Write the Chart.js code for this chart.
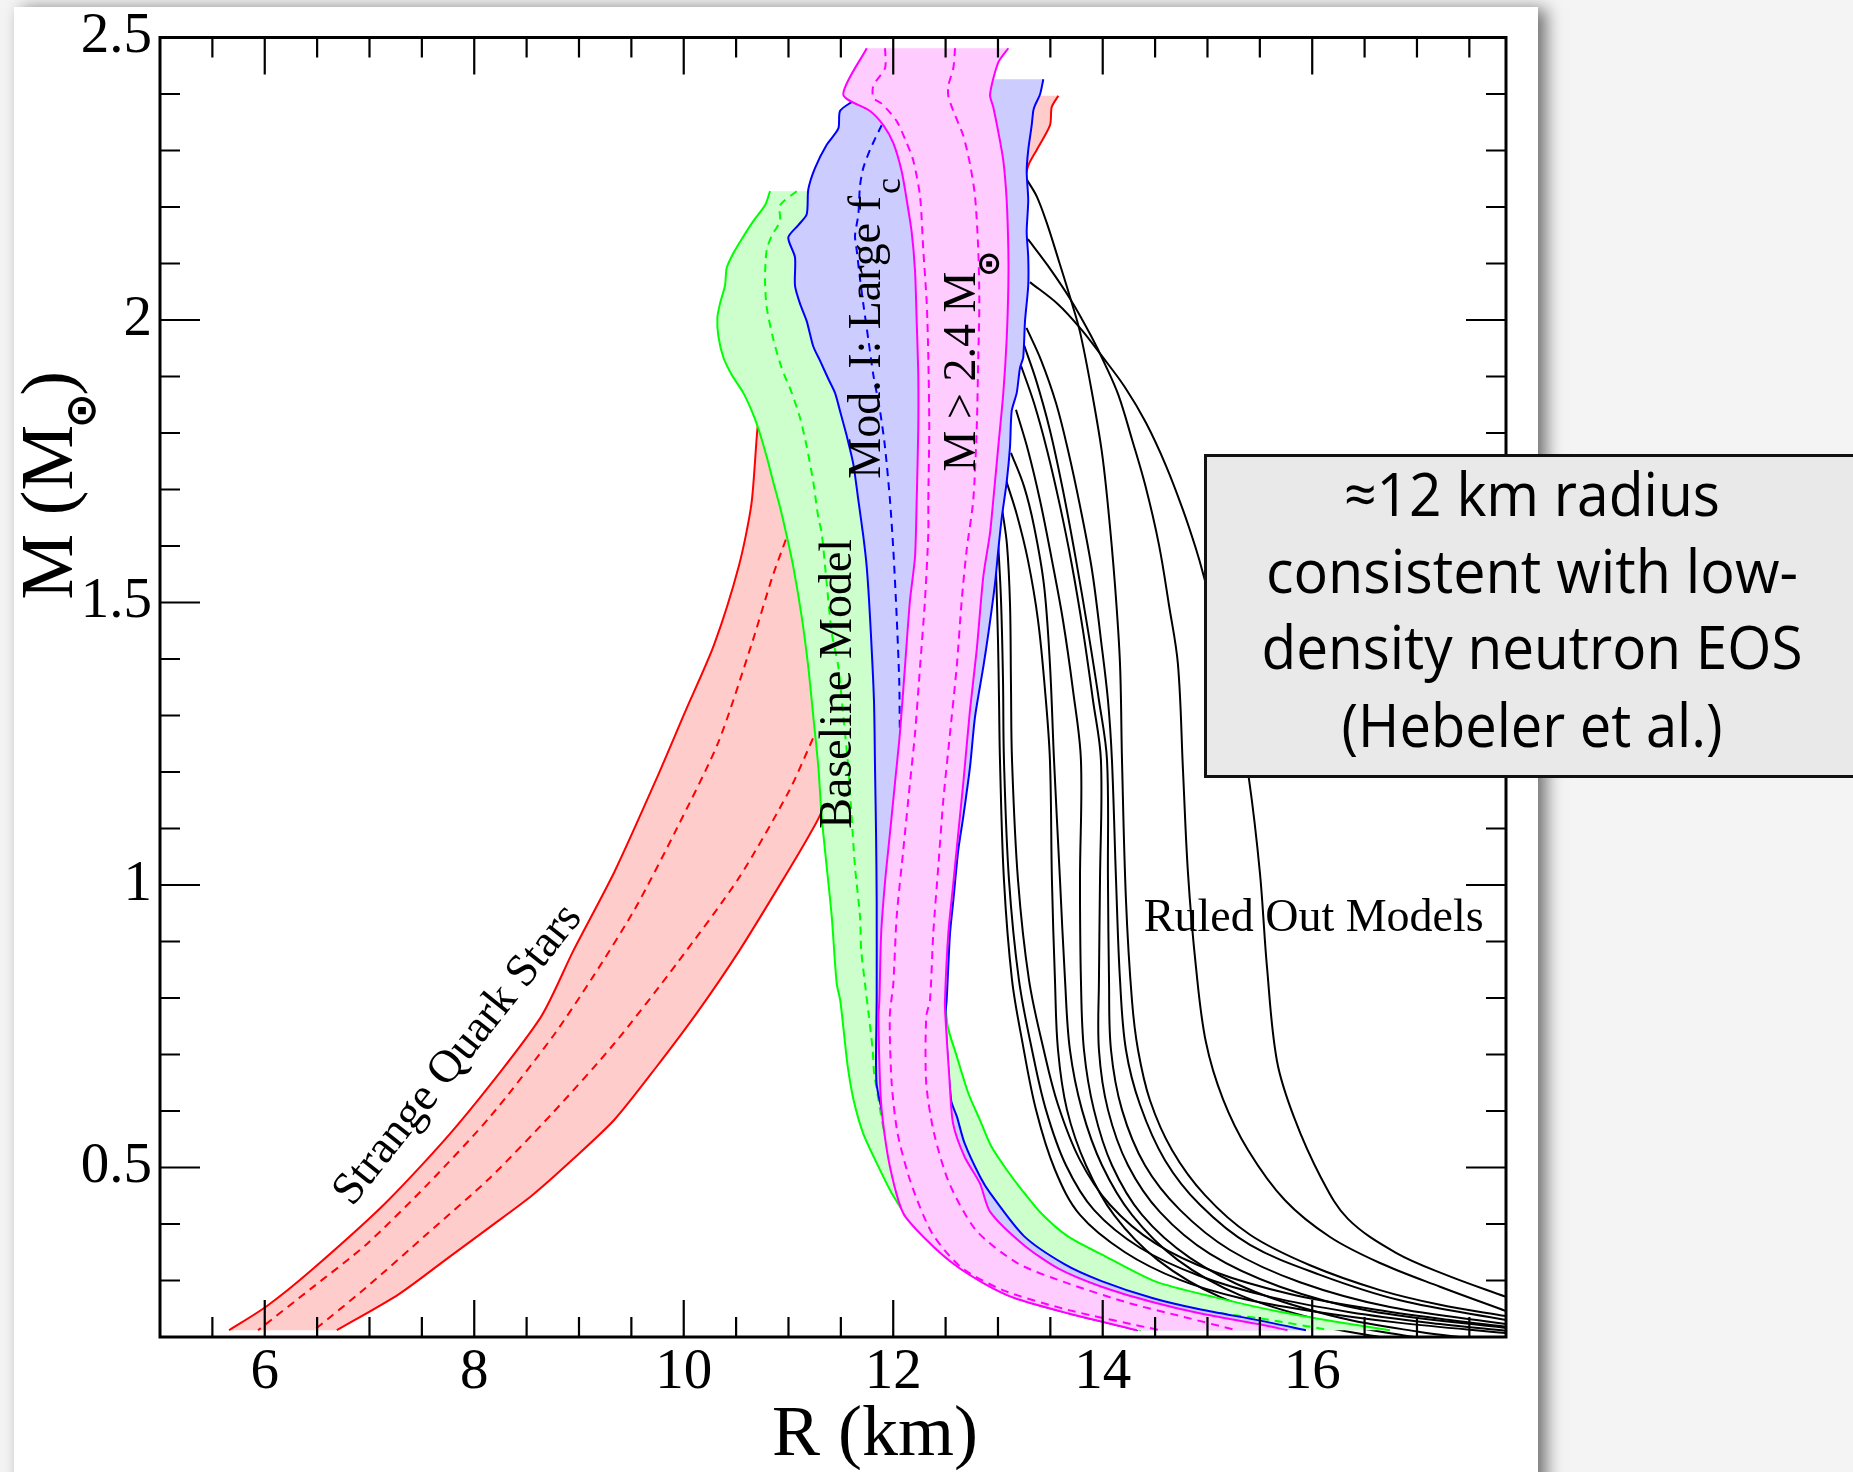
<!DOCTYPE html>
<html lang="en">
<head>
<meta charset="UTF-8">
<title>Neutron star mass-radius constraints</title>
<script src="https://cdn.jsdelivr.net/npm/chart.js@4.4.1/dist/chart.umd.min.js"></script>
<style>
  html, body { margin: 0; padding: 0; background: #f4f4f4; overflow: hidden; }
  .sheet {
    position: absolute; left: 14px; top: 7px; width: 1524px; height: 1560px;
    background: #fff; box-shadow: 8px 2px 16px rgba(0, 0, 0, 0.55);
  }
  #mr { position: absolute; left: 0; top: 0; }
</style>
</head>
<body>
<div class="sheet"></div>
<canvas id="mr" width="1853" height="1472"></canvas>
<script>
// axis limits and labelled ticks
const rLimits = [5, 17.85];
const mLimits = [0.2, 2.5];
const xTickLabels = [6, 8, 10, 12, 14, 16];
const yTickLabels = [0.5, 1, 1.5, 2, 2.5];

// strange quark stars band, [R km, M Msun], edges listed top to bottom
const quarkLeft = [[12.637,2.397],[12.064,2.389],[11.683,2.336],[11.320,2.239],[11.015,2.124],[10.805,1.965],[10.705,1.810],[10.646,1.674],[10.528,1.566],[10.289,1.425],[10.012,1.306],[9.735,1.186],[9.340,1.024],[8.944,0.883],[8.628,0.764],[7.835,0.574],[7.163,0.439],[6.450,0.319],[6.015,0.254],[5.659,0.212]];
const quarkRight = [[13.576,2.397],[13.513,2.377],[13.497,2.345],[13.370,2.301],[13.289,2.273],[13.163,2.177],[12.924,2.036],[12.637,1.858],[12.256,1.681],[11.874,1.504],[11.587,1.327],[11.319,1.132],[11.201,1.089],[10.923,1.002],[10.528,0.883],[10.131,0.775],[9.735,0.677],[9.340,0.585],[8.944,0.515],[8.548,0.450],[8.152,0.395],[7.757,0.341],[7.282,0.276],[6.688,0.212]];
const quarkDashA = [[11.110,1.681],[10.982,1.615],[10.844,1.544],[10.646,1.425],[10.329,1.252],[9.934,1.100],[9.538,0.959],[9.142,0.840],[8.746,0.731],[8.152,0.590],[7.559,0.471],[6.965,0.363],[6.451,0.287],[5.936,0.212]];
const quarkDashB = [[11.398,1.327],[11.240,1.262],[11.002,1.165],[10.528,1.013],[9.934,0.861],[9.340,0.720],[8.746,0.596],[8.152,0.482],[7.559,0.384],[6.965,0.287],[6.470,0.212]];

// baseline model band
const baseLeft = [[10.824,2.228],[10.776,2.203],[10.664,2.175],[10.553,2.143],[10.473,2.118],[10.410,2.092],[10.394,2.061],[10.346,2.029],[10.321,2.004],[10.330,1.972],[10.378,1.934],[10.458,1.903],[10.569,1.871],[10.649,1.839],[10.712,1.808],[10.792,1.758],[10.855,1.713],[10.919,1.669],[10.983,1.618],[11.046,1.563],[11.126,1.475],[11.189,1.386],[11.237,1.298],[11.285,1.209],[11.317,1.121],[11.365,1.032],[11.413,0.944],[11.460,0.826],[11.494,0.796],[11.530,0.737],[11.566,0.678],[11.622,0.619],[11.712,0.561],[11.860,0.501],[11.987,0.454],[12.133,0.413],[12.280,0.384],[12.351,0.372],[12.609,0.330],[12.905,0.295],[13.191,0.269],[13.706,0.242],[14.365,0.212]];
const baseRight = [[11.253,2.228],[11.444,2.036],[11.778,1.770],[12.112,1.416],[12.351,1.062],[12.466,0.885],[12.516,0.754],[12.608,0.696],[12.718,0.631],[12.828,0.584],[12.937,0.537],[13.083,0.496],[13.229,0.460],[13.412,0.419],[13.668,0.378],[14.033,0.342],[14.508,0.298],[15.056,0.271],[15.677,0.245],[16.225,0.227],[16.742,0.212]];
const baseDash = [[11.078,2.228],[10.919,2.203],[10.919,2.175],[10.840,2.149],[10.792,2.124],[10.776,2.073],[10.792,2.023],[10.855,1.966],[10.935,1.915],[11.031,1.871],[11.110,1.827],[11.174,1.776],[11.237,1.713],[11.285,1.650],[11.317,1.623],[11.365,1.534],[11.413,1.446],[11.476,1.386],[11.524,1.298],[11.571,1.209],[11.603,1.121],[11.635,1.032],[11.683,0.944],[11.694,0.885],[11.730,0.826],[11.768,0.767],[11.804,0.708],[11.822,0.661],[12.017,0.496],[12.590,0.372],[13.592,0.289],[14.547,0.255],[15.501,0.233],[16.170,0.212]];

// model I (large f_c) band
const largeFcLeft = [[11.922,2.426],[11.604,2.386],[11.492,2.370],[11.476,2.339],[11.365,2.310],[11.253,2.269],[11.189,2.231],[11.174,2.187],[11.094,2.168],[10.998,2.146],[11.062,2.111],[11.062,2.061],[11.110,2.029],[11.174,1.998],[11.237,1.953],[11.301,1.928],[11.380,1.896],[11.444,1.871],[11.492,1.839],[11.556,1.795],[11.619,1.745],[11.667,1.681],[11.714,1.618],[11.747,1.563],[11.778,1.475],[11.816,1.327],[11.826,1.209],[11.836,1.091],[11.842,0.973],[11.842,0.796],[11.840,0.767],[11.840,0.650],[11.903,0.590],[11.979,0.501],[12.103,0.419],[12.323,0.372],[12.580,0.330],[12.876,0.295],[13.172,0.269],[13.678,0.242],[14.337,0.212]];
const largeFcRight = [[13.433,2.426],[13.401,2.399],[13.353,2.380],[13.337,2.370],[13.322,2.345],[13.289,2.301],[13.274,2.263],[13.289,2.212],[13.274,2.156],[13.289,2.111],[13.289,2.061],[13.258,1.998],[13.241,1.934],[13.210,1.915],[13.179,1.871],[13.131,1.839],[13.115,1.776],[13.083,1.713],[13.036,1.650],[13.003,1.593],[12.972,1.534],[12.908,1.445],[12.860,1.386],[12.781,1.298],[12.733,1.209],[12.669,1.121],[12.621,1.062],[12.574,0.973],[12.542,0.914],[12.510,0.796],[12.498,0.767],[12.553,0.619],[12.608,0.590],[12.681,0.543],[12.828,0.484],[12.924,0.455],[13.246,0.379],[13.634,0.329],[13.989,0.299],[14.473,0.269],[14.925,0.249],[15.506,0.229],[15.940,0.212]];
const largeFcDash = [[12.017,2.389],[11.874,2.339],[11.778,2.301],[11.714,2.269],[11.683,2.238],[11.667,2.187],[11.635,2.149],[11.651,2.124],[11.683,2.073],[11.714,2.029],[11.762,1.966],[11.810,1.903],[11.874,1.839],[11.921,1.776],[11.969,1.681],[12.001,1.593],[12.033,1.475],[12.058,1.357],[12.064,1.268],[12.093,1.150]];

// M > 2.4 Msun band
const heavyLeft = [[11.747,2.481],[11.523,2.399],[11.778,2.370],[11.905,2.345],[12.001,2.313],[12.081,2.263],[12.129,2.212],[12.176,2.156],[12.208,2.087],[12.224,1.998],[12.239,1.903],[12.239,1.808],[12.224,1.681],[12.208,1.581],[12.160,1.504],[12.112,1.386],[12.064,1.269],[12.017,1.181],[11.969,1.092],[11.921,1.004],[11.885,0.915],[11.868,0.796],[11.859,0.767],[11.874,0.650],[11.896,0.590],[11.969,0.501],[12.096,0.419],[12.316,0.372],[12.571,0.330],[12.864,0.295],[13.156,0.269],[13.668,0.242],[14.326,0.212]];
const heavyRight = [[13.099,2.481],[13.003,2.456],[12.924,2.399],[12.955,2.377],[13.003,2.333],[13.051,2.282],[13.083,2.212],[13.099,2.124],[13.099,2.061],[13.083,1.966],[13.051,1.871],[13.003,1.776],[12.955,1.681],[12.924,1.623],[12.860,1.546],[12.797,1.416],[12.733,1.310],[12.669,1.181],[12.621,1.092],[12.574,1.004],[12.526,0.915],[12.494,0.796],[12.498,0.767],[12.535,0.661],[12.571,0.578],[12.681,0.519],[12.828,0.472],[12.924,0.422],[13.246,0.363],[13.569,0.322],[13.989,0.289],[14.473,0.262],[14.925,0.242],[15.506,0.222],[15.764,0.212]];
const heavyDashA = [[11.922,2.481],[11.922,2.446],[11.810,2.415],[11.810,2.393],[11.890,2.383],[12.033,2.352],[12.129,2.313],[12.192,2.282],[12.256,2.219],[12.287,2.124],[12.320,2.029],[12.335,1.934],[12.344,1.808],[12.335,1.681],[12.335,1.623],[12.303,1.504],[12.256,1.386],[12.208,1.268],[12.160,1.181],[12.096,1.062],[12.033,0.944],[12.001,0.826],[11.967,0.767],[11.985,0.650],[12.041,0.561],[12.170,0.472],[12.370,0.384],[12.644,0.324],[13.046,0.283],[13.668,0.248],[14.544,0.212]];
const heavyDashB = [[12.590,2.481],[12.574,2.446],[12.526,2.415],[12.526,2.396],[12.574,2.370],[12.669,2.326],[12.733,2.276],[12.781,2.219],[12.812,2.124],[12.822,2.029],[12.812,1.934],[12.797,1.808],[12.764,1.681],[12.701,1.593],[12.654,1.504],[12.606,1.386],[12.542,1.268],[12.478,1.150],[12.430,1.032],[12.382,0.914],[12.351,0.796],[12.315,0.767],[12.315,0.649],[12.389,0.561],[12.535,0.472],[12.790,0.389],[13.192,0.330],[13.668,0.295],[14.252,0.260],[14.764,0.236],[15.275,0.212]];

// ruled-out equations of state
const ruledOutA = [[13.305,2.067],[13.573,2.028],[13.783,1.986],[13.993,1.936],[14.212,1.881],[14.413,1.818],[14.604,1.742],[14.766,1.664],[14.890,1.595],[14.967,1.545],[15.119,1.434],[15.272,1.319],[15.396,1.188],[15.501,1.021],[15.568,0.855],[15.663,0.689],[15.826,0.589],[16.084,0.482],[16.341,0.409],[16.800,0.349],[17.277,0.310],[17.850,0.271]];
const ruledOutB = [[13.286,2.143],[13.473,2.097],[13.697,2.035],[13.888,1.972],[14.021,1.922],[14.150,1.867],[14.279,1.789],[14.408,1.706],[14.537,1.602],[14.632,1.496],[14.718,1.391],[14.766,1.204],[14.814,1.021],[14.890,0.855],[14.985,0.722],[15.148,0.621],[15.387,0.531],[15.740,0.442],[16.170,0.377],[16.647,0.331],[17.220,0.289],[17.850,0.246]];
const ruledOutC = [[13.277,2.248],[13.372,2.218],[13.473,2.168],[13.582,2.104],[13.697,2.035],[13.783,1.979],[13.888,1.881],[13.989,1.770],[14.050,1.671],[14.117,1.531],[14.165,1.391],[14.184,1.221],[14.222,0.973],[14.279,0.796],[14.337,0.708],[14.451,0.619],[14.661,0.531],[14.976,0.451],[15.406,0.381],[15.979,0.327],[16.647,0.283],[17.220,0.257],[17.850,0.237]];
const ruledOutD = [[13.272,1.986],[13.411,1.929],[13.554,1.853],[13.668,1.770],[13.783,1.671],[13.897,1.558],[13.983,1.434],[14.050,1.327],[14.088,1.221],[14.127,1.009],[14.165,0.832],[14.222,0.708],[14.356,0.611],[14.594,0.513],[14.928,0.434],[15.406,0.363],[16.074,0.310],[16.838,0.265],[17.850,0.230]];
const ruledOutE = [[13.248,1.956],[13.363,1.894],[13.496,1.805],[13.620,1.699],[13.745,1.575],[13.859,1.451],[13.964,1.327],[14.041,1.221],[14.050,1.009],[14.060,0.832],[14.079,0.708],[14.184,0.602],[14.403,0.504],[14.737,0.425],[15.215,0.354],[15.883,0.297],[16.742,0.253],[17.850,0.223]];
const ruledOutF = [[13.220,1.919],[13.344,1.853],[13.468,1.770],[13.592,1.671],[13.706,1.566],[13.811,1.451],[13.907,1.327],[13.983,1.221],[13.974,1.009],[13.964,0.832],[13.964,0.708],[14.050,0.602],[14.241,0.504],[14.547,0.421],[15.024,0.347],[15.692,0.289],[16.551,0.246],[17.850,0.216]];
const ruledOutG = [[13.172,1.841],[13.286,1.770],[13.401,1.681],[13.515,1.575],[13.620,1.469],[13.716,1.345],[13.792,1.221],[13.783,1.009],[13.792,0.832],[13.821,0.708],[13.916,0.602],[14.088,0.504],[14.375,0.416],[14.833,0.340],[15.453,0.280],[16.265,0.234],[17.029,0.209],[17.506,0.198]];
const ruledOutH = [[13.124,1.765],[13.248,1.706],[13.344,1.635],[13.439,1.531],[13.496,1.391],[13.535,1.221],[13.592,1.009],[13.640,0.832],[13.687,0.708],[13.802,0.602],[13.993,0.504],[14.279,0.416],[14.718,0.336],[15.310,0.274],[16.074,0.230],[16.838,0.204],[17.220,0.193]];
const ruledOutI = [[13.076,1.717],[13.181,1.655],[13.286,1.575],[13.382,1.469],[13.449,1.345],[13.496,1.221],[13.515,1.009],[13.544,0.832],[13.573,0.708],[13.659,0.602],[13.840,0.504],[14.107,0.416],[14.527,0.336],[15.119,0.271],[15.883,0.227],[16.647,0.200],[17.029,0.191]];
const ruledOutJ = [[13.038,1.667],[13.086,1.602],[13.115,1.496],[13.124,1.356],[13.134,1.221],[13.191,1.009],[13.296,0.832],[13.437,0.708],[13.573,0.611],[13.783,0.513],[14.069,0.434],[14.499,0.366],[15.072,0.315],[15.788,0.276],[16.551,0.250],[17.315,0.230],[17.850,0.218]];
const ruledOutK = [[13.000,1.611],[13.029,1.504],[13.048,1.363],[13.057,1.221],[13.105,1.009],[13.200,0.832],[13.325,0.708],[13.458,0.602],[13.649,0.504],[13.916,0.425],[14.356,0.358],[14.928,0.308],[15.597,0.271],[16.360,0.244],[17.220,0.223],[17.850,0.211]];
const ruledOutL = [[12.981,1.559],[13.000,1.434],[13.010,1.327],[13.019,1.221],[13.057,1.009],[13.134,0.832],[13.229,0.726],[13.363,0.602],[13.544,0.496],[13.783,0.416],[14.212,0.350],[14.737,0.301],[15.310,0.269],[15.988,0.246],[16.838,0.225],[17.850,0.207]];
const ruledOut = [ruledOutA, ruledOutB, ruledOutC, ruledOutD, ruledOutE, ruledOutF,
                  ruledOutG, ruledOutH, ruledOutI, ruledOutJ, ruledOutK, ruledOutL];

const noteLines = ['\u224812 km radius', 'consistent with low-', 'density neutron EOS', '(Hebeler et al.)'];

const bandLabels = [
  { text: 'Strange Quark Stars', r: 7.845, m: 0.699, angle: -51.5, align: 'center', baseline: 'middle' },
  { text: 'Baseline Model', r: 11.482, m: 1.356, angle: -90, align: 'center', baseline: 'middle' },
  { text: 'Mod. I: Large f', sub: 'c', r: 11.874, m: 1.719, angle: -90, align: 'left', baseline: 'alphabetic' },
  { text: 'M > 2.4 M', sun: true, r: 12.781, m: 1.732, angle: -90, align: 'left', baseline: 'alphabetic' },
  { text: 'Ruled Out Models', r: 14.392, m: 0.919, angle: 0, align: 'left', baseline: 'alphabetic' }
];

const SERIF = '"Liberation Serif", "Times New Roman", serif';
const EDGE_TENSION = 0.25;
const pts = arr => arr.map(([r, m]) => ({ x: r, y: m }));

function curve(arr, color, order, dash, tension) {
  return {
    data: pts(arr), showLine: true, fill: false,
    borderColor: color, borderWidth: 2, borderDash: dash || [],
    pointRadius: 0, pointHoverRadius: 0, tension, order
  };
}

// closed outline of a band; the end points are doubled so the spline
// keeps sharp corners where the top and bottom edges join the sides
function band(left, right, color, order) {
  const back = right.slice().reverse();
  const ring = [left[0], ...left, left[left.length - 1], back[0], ...back, back[back.length - 1]];
  return {
    data: pts(ring),
    showLine: true, fill: 'shape', backgroundColor: color,
    borderColor: 'rgba(0,0,0,0)', borderWidth: 0,
    pointRadius: 0, pointHoverRadius: 0, tension: EDGE_TENSION, order
  };
}

const DASH = [8, 6];
const T = EDGE_TENSION;
const datasets = [
  // top layer first: M > 2.4
  curve(heavyLeft, '#ff00ff', 9, null, T), curve(heavyRight, '#ff00ff', 9, null, T),
  curve(heavyDashA, '#ff00ff', 9, DASH, T), curve(heavyDashB, '#ff00ff', 9, DASH, T),
  band(heavyLeft, heavyRight, '#ffccff', 10),
  curve(largeFcLeft, '#0000ff', 19, null, T), curve(largeFcRight, '#0000ff', 19, null, T),
  curve(largeFcDash, '#0000ff', 19, DASH, T),
  band(largeFcLeft, largeFcRight, '#ccccff', 20),
  curve(baseLeft, '#00ff00', 29, null, T), curve(baseRight, '#00ff00', 29, null, T),
  curve(baseDash, '#00ff00', 29, DASH, T),
  band(baseLeft, baseRight, '#ccffcc', 30),
  curve(quarkLeft, '#ff0000', 39, null, T), curve(quarkRight, '#ff0000', 39, null, T),
  curve(quarkDashA, '#ff0000', 39, DASH, T), curve(quarkDashB, '#ff0000', 39, DASH, T),
  band(quarkLeft, quarkRight, '#ffcccc', 40)
].concat(ruledOut.map(c => curve(c, '#000000', 50, null, 0.35)));

// inward ticks on all four sides plus the frame
const frameAndTicks = {
  id: 'frameAndTicks',
  afterDatasetsDraw(chart) {
    const { ctx, chartArea: a, scales: { x, y } } = chart;
    ctx.save();
    ctx.strokeStyle = '#000';
    ctx.lineWidth = 2.2;
    ctx.beginPath();
    for (let i = 11; i <= 35; i++) {
      const v = i / 2;
      const px = x.getPixelForValue(v);
      const len = xTickLabels.includes(v) ? 37 : 20;
      ctx.moveTo(px, a.bottom); ctx.lineTo(px, a.bottom - len);
      ctx.moveTo(px, a.top); ctx.lineTo(px, a.top + len);
    }
    for (let i = 3; i <= 24; i++) {
      const py = y.getPixelForValue(i / 10);
      const len = i % 5 === 0 ? 40 : 20;
      ctx.moveTo(a.left, py); ctx.lineTo(a.left + len, py);
      ctx.moveTo(a.right, py); ctx.lineTo(a.right - len, py);
    }
    ctx.stroke();
    ctx.lineWidth = 3;
    ctx.strokeRect(a.left, a.top, a.right - a.left, a.bottom - a.top);
    ctx.restore();
  }
};

// band names, axis titles and the note box
const annotations = {
  id: 'annotations',
  afterDatasetsDraw(chart) {
    const { ctx, scales: { x, y } } = chart;
    ctx.save();
    ctx.fillStyle = '#000';
    for (const lab of bandLabels) {
      ctx.save();
      ctx.translate(x.getPixelForValue(lab.r), y.getPixelForValue(lab.m));
      ctx.rotate(lab.angle * Math.PI / 180);
      ctx.font = '46px ' + SERIF;
      ctx.textAlign = lab.align;
      ctx.textBaseline = lab.baseline;
      ctx.fillText(lab.text, 0, 0);
      const w = ctx.measureText(lab.text).width;
      if (lab.sub) {
        ctx.font = '36px ' + SERIF;
        ctx.textAlign = 'left';
        ctx.fillText(lab.sub, w + 2, 20);
      }
      if (lab.sun) {
        ctx.font = 'bold 31px "DejaVu Sans"';
        ctx.textAlign = 'center';
        ctx.textBaseline = 'middle';
        ctx.fillText('\u2299', w + 8, 16);
      }
      ctx.restore();
    }
    ctx.restore();
  },
  afterDraw(chart) {
    const { ctx, chartArea: a } = chart;
    ctx.save();
    ctx.fillStyle = '#000';
    ctx.font = '72px ' + SERIF;
    ctx.textAlign = 'center';
    ctx.textBaseline = 'alphabetic';
    ctx.fillText('R (km)', (a.left + a.right) / 2 + 42, a.bottom + 118);

    ctx.save();
    ctx.translate(a.left - 88, a.top + 562);
    ctx.rotate(-Math.PI / 2);
    ctx.font = '74px ' + SERIF;
    ctx.textAlign = 'left';
    ctx.fillText('M (M', 0, 0);
    const w = ctx.measureText('M (M').width;
    ctx.font = 'bold 42px "DejaVu Sans"';
    ctx.textAlign = 'center';
    ctx.textBaseline = 'middle';
    ctx.fillText('\u2299', w + 14, 12);
    ctx.font = '74px ' + SERIF;
    ctx.textAlign = 'left';
    ctx.textBaseline = 'alphabetic';
    ctx.fillText(')', w + 29, 0);
    ctx.restore();

    // note box, running off the right edge
    ctx.fillStyle = '#e9e9e9';
    ctx.fillRect(1204, 454, 660, 324);
    ctx.strokeStyle = '#111';
    ctx.lineWidth = 3;
    ctx.strokeRect(1205.5, 455.5, 660, 321);
    ctx.fillStyle = '#000';
    ctx.font = '60px "Open Sans", "Noto Sans", sans-serif';
    ctx.textAlign = 'center';
    const baselines = [516, 593, 669, 747];
    const widths = [376, 532, 541, 381];
    noteLines.forEach((t, i) => ctx.fillText(t, 1532, baselines[i], widths[i]));
    ctx.restore();
  }
};

const tickFont = { family: SERIF, size: 57, lineHeight: 1 };

new Chart(document.getElementById('mr'), {
  type: 'scatter',
  data: { datasets },
  options: {
    responsive: false,
    animation: false,
    devicePixelRatio: 1,
    events: [],
    layout: { padding: { top: 37.5, right: 347, bottom: 0, left: 0 } },
    plugins: { legend: { display: false }, tooltip: { enabled: false } },
    scales: {
      x: {
        type: 'linear', min: rLimits[0], max: rLimits[1],
        afterBuildTicks: s => { s.ticks = xTickLabels.map(value => ({ value })); },
        afterFit: s => { s.height = 135; s.paddingLeft = 0; s.paddingRight = 0; },
        ticks: { font: tickFont, color: '#000', padding: 8, maxRotation: 0, autoSkip: false, callback: v => String(v) },
        grid: { display: false, drawTicks: false },
        border: { display: false }
      },
      y: {
        type: 'linear', min: mLimits[0], max: mLimits[1],
        afterBuildTicks: s => { s.ticks = yTickLabels.map(value => ({ value })); },
        afterFit: s => { s.width = 160; s.paddingTop = 0; s.paddingBottom = 0; },
        ticks: { font: tickFont, color: '#000', padding: 8, autoSkip: false, callback: v => String(v) },
        grid: { display: false, drawTicks: false },
        border: { display: false }
      }
    }
  },
  plugins: [annotations, frameAndTicks]
});
</script>
</body>
</html>
